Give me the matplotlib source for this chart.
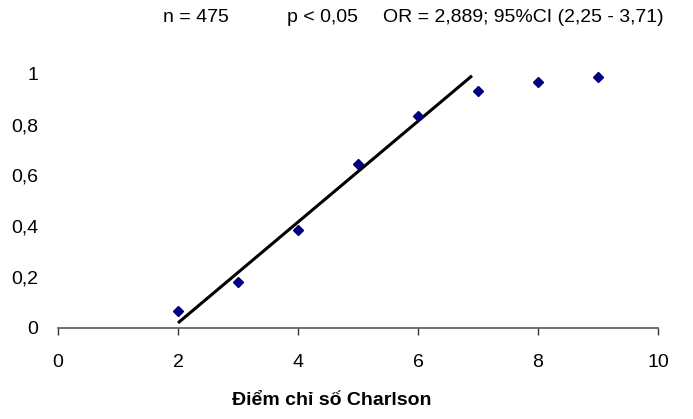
import matplotlib.pyplot as plt

plt.rcParams['font.family'] = ['Liberation Sans', 'DejaVu Sans']

# observed proportions by Charlson score
charlson = [2, 3, 4, 5, 6, 7, 8, 9]
proportion = [0.067, 0.178, 0.383, 0.644, 0.835, 0.933, 0.968, 0.988]

# linear trend line end points
trend_x = [2, 6.9]
trend_y = [0.018, 0.993]

x_ticks = [0, 2, 4, 6, 8, 10]
y_ticks = [0, 0.2, 0.4, 0.6, 0.8, 1.0]
y_labels = ['0', '0,2', '0,4', '0,6', '0,8', '1']

fig = plt.figure(figsize=(6.93, 4.19), dpi=100)
ax = fig.add_axes([58/693, 1-327.5/419, 600/693, (327.5-74)/419])

ax.plot(trend_x, trend_y, color='black', lw=2.2, solid_capstyle='butt', zorder=2, clip_on=False)
ax.plot(charlson, proportion, 'D', color='#000080', ms=5.5, zorder=3, clip_on=False)

ax.set_xlim(0, 10)
ax.set_ylim(0, 1)
ax.set_xticks(x_ticks)
ax.set_xticklabels([str(v) for v in x_ticks], fontsize=14)
ax.set_yticks(y_ticks)
ax.set_yticklabels(y_labels, fontsize=14)

for s in ['top', 'right', 'left']:
    ax.spines[s].set_visible(False)
ax.spines['bottom'].set_color('#555555')
ax.spines['bottom'].set_linewidth(1.2)
ax.tick_params(axis='x', direction='out', length=5, width=1, color='#333333', pad=14)
ax.tick_params(axis='y', length=0, pad=14)

fig.text(332/693, 1-400/419, 'Điểm chỉ số Charlson', fontsize=14, fontweight='bold',
         ha='center', va='center')

fig.text(163/693, 1-17/419, 'n = 475', fontsize=14, va='center', ha='left')
fig.text(287/693, 1-17/419, 'p < 0,05', fontsize=14, va='center', ha='left')
fig.text(383/693, 1-17/419, 'OR = 2,889; 95%CI (2,25 - 3,71)', fontsize=14, va='center', ha='left')

fig.savefig('out.png', dpi=100)
